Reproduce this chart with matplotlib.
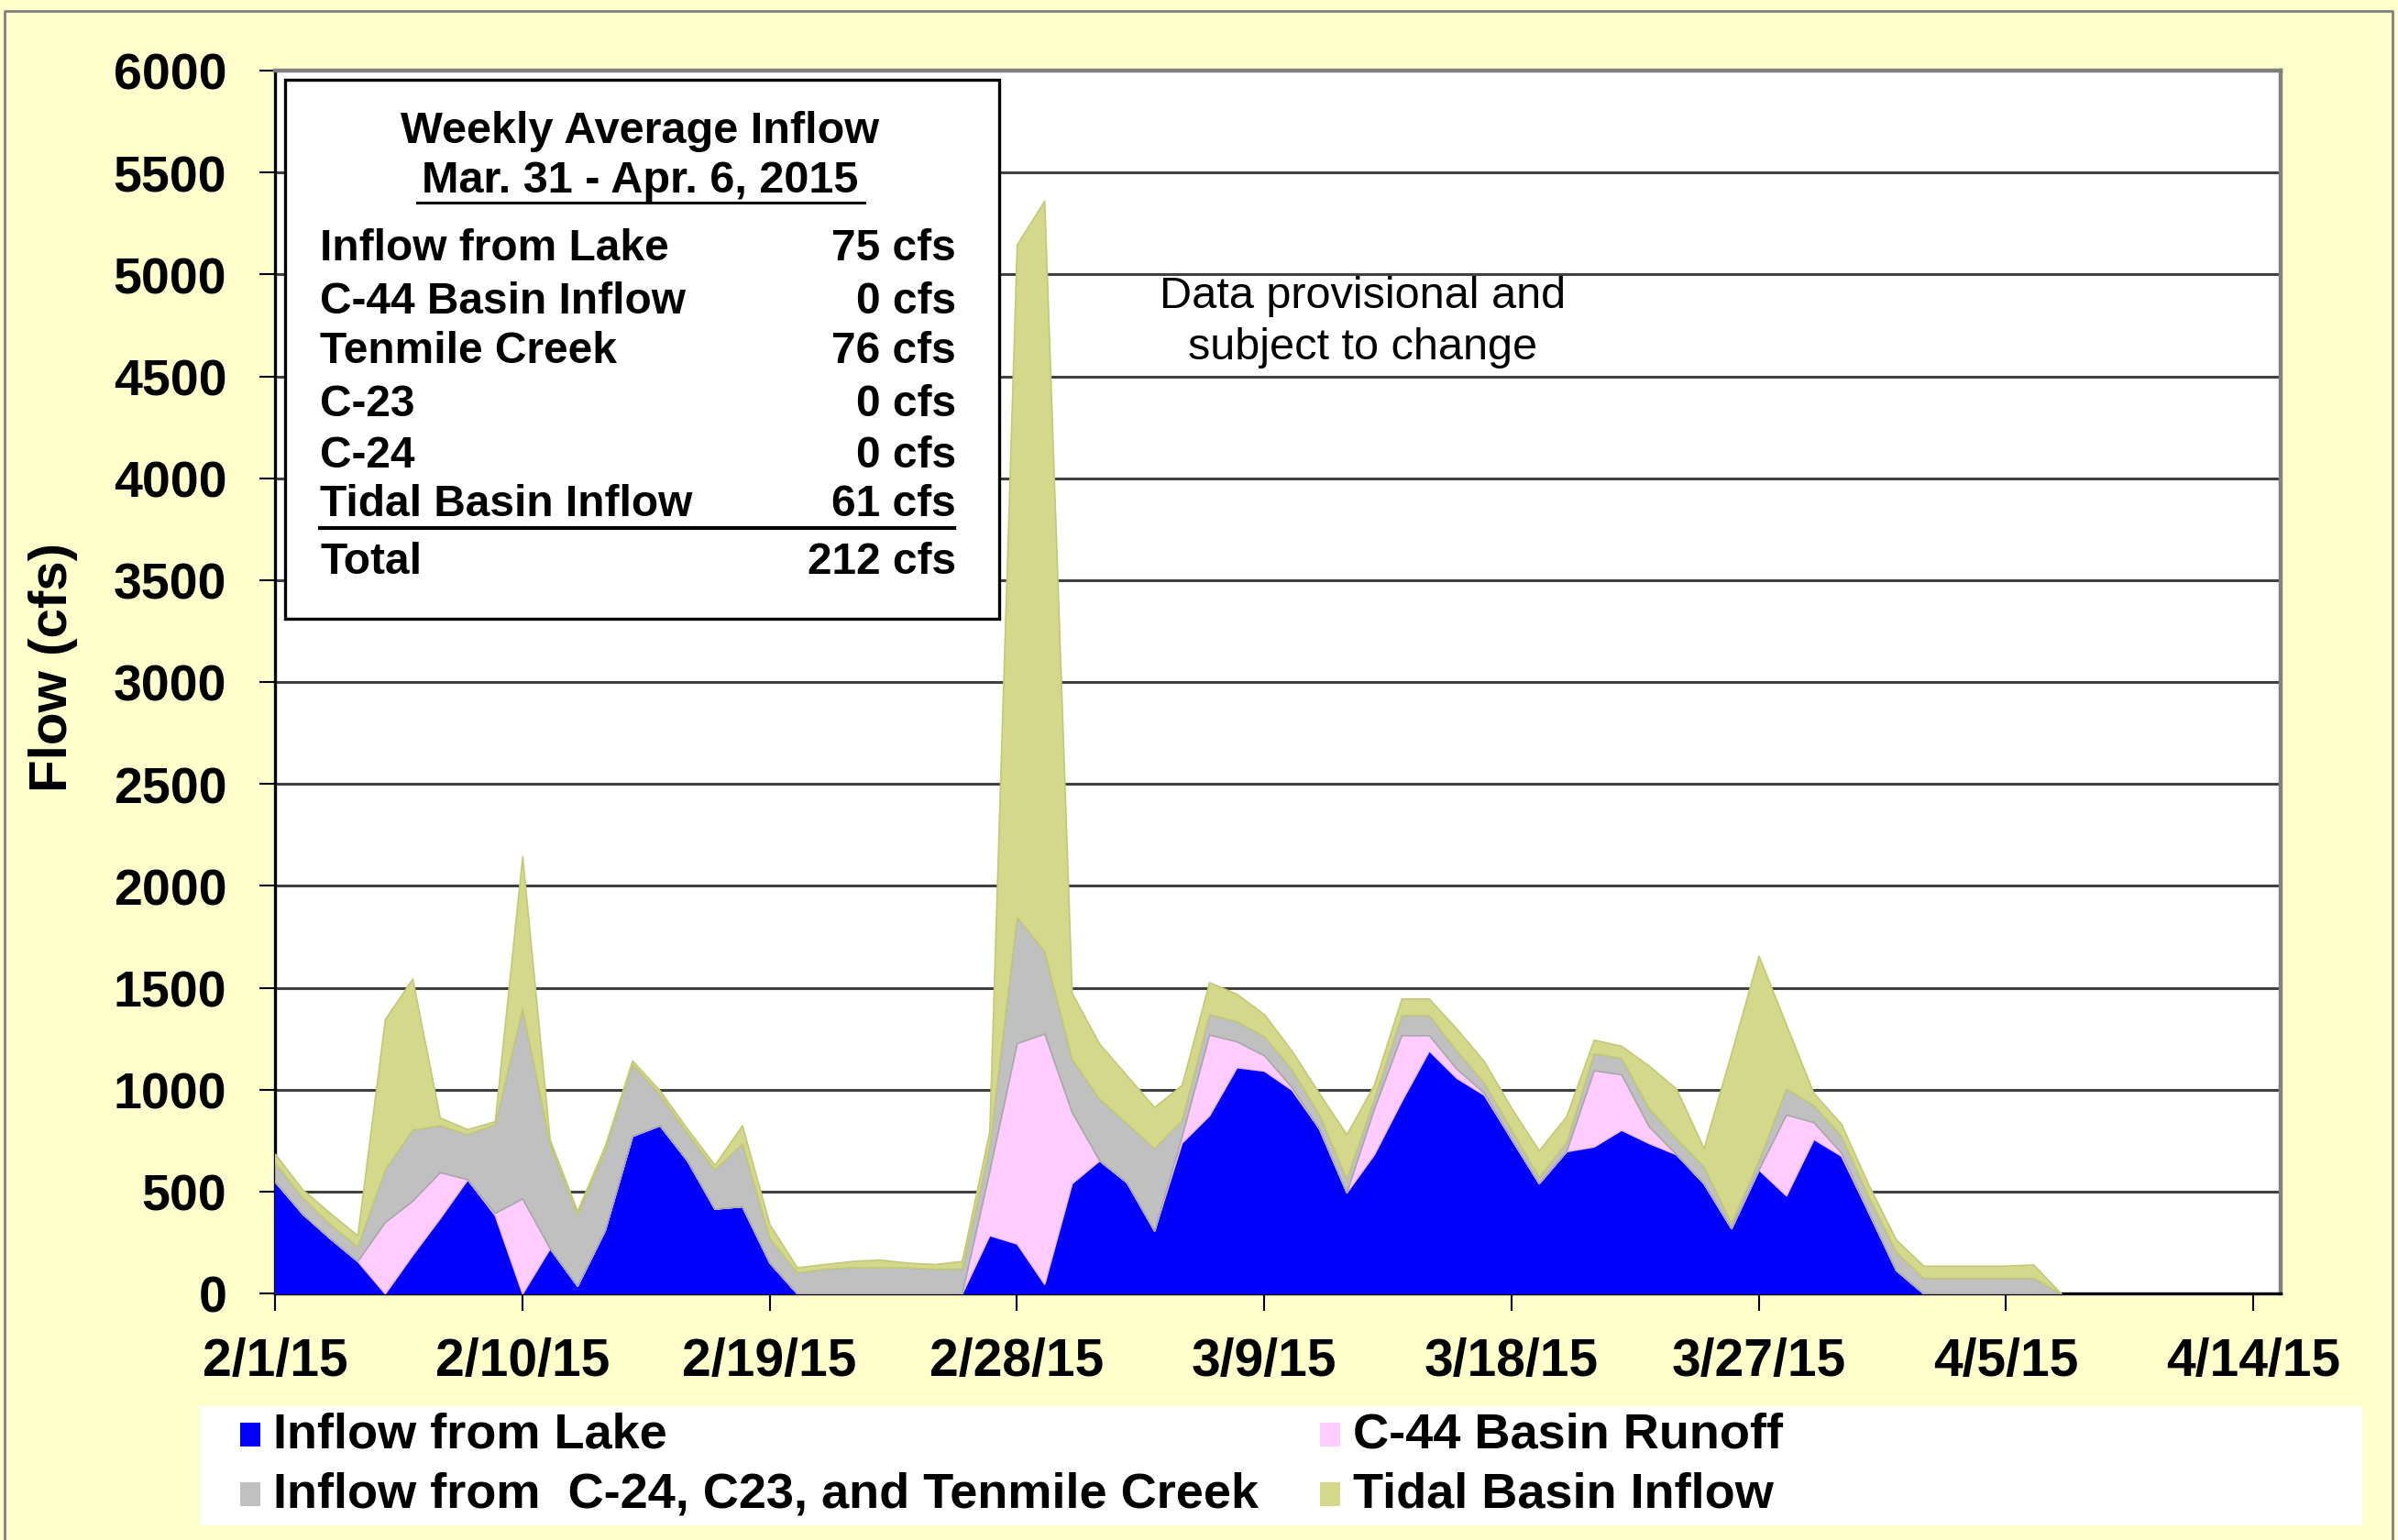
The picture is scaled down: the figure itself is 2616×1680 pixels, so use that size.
import matplotlib
matplotlib.use("Agg")
import matplotlib.pyplot as plt
import numpy as np
import pandas as pd
from matplotlib.patches import Rectangle
from matplotlib.lines import Line2D

# ---------------- data (cfs, daily from 2/1/2015) ----------------
start_date = "2015-02-01"
inflow_lake = [548, 391, 271, 159, 0, 190, 370, 560, 385, 0,
               222, 38, 309, 773, 825, 653, 416, 428, 151, 0,
               0, 0, 0, 0, 0, 0, 286, 245, 47, 541,
               653, 545, 309, 740, 874, 1110, 1093, 1000, 810, 496,
               683, 945, 1192, 1058, 975, 758, 541, 698, 721, 803,
               738, 683, 540, 320, 608, 481, 758, 676, 398, 114,
               0, 0, 0, 0, 0, 0]
c44_runoff = [0, 0, 0, 0, 350, 265, 225, 0, 10, 466,
              0, 0, 0, 0, 0, 0, 0, 0, 0, 0,
              0, 0, 0, 0, 0, 0, 314, 983, 1228, 349,
              0, 0, 0, 30, 396, 127, 75, 13, 0, 0,
              223, 322, 75, 45, 10, 0, 0, 0, 374, 272,
              82, 0, 0, 0, 0, 397, 82, 15, 0, 0,
              0, 0, 0, 0, 0, 0]
c24_c23_tenmile = [92, 79, 69, 71, 258, 348, 230, 221, 435, 932,
                   514, 349, 391, 352, 151, 134, 192, 307, 120, 103,
                   121, 128, 128, 128, 121, 121, 120, 619, 405, 260,
                   302, 290, 404, 80, 100, 98, 94, 87, 68, 67,
                   50, 98, 98, 89, 50, 45, 30, 45, 83, 80,
                   90, 77, 83, 25, 45, 127, 83, 82, 75, 90,
                   76, 76, 76, 76, 76, 0]
tidal_basin = [45, 40, 55, 55, 738, 742, 38, 25, 15, 747,
               19, 18, 22, 18, 21, 22, 23, 90, 68, 25,
               23, 31, 38, 23, 23, 38, 75, 3300, 3682, 325,
               271, 235, 202, 172, 157, 135, 108, 92, 105, 218,
               69, 82, 82, 108, 105, 107, 131, 127, 67, 60,
               208, 245, 90, 835, 1004, 315, 60, 60, 60, 60,
               60, 60, 60, 60, 66, 0]

series_names = ["Inflow from Lake", "C-44 Basin Runoff",
                "Inflow from  C-24, C23, and Tenmile Creek", "Tidal Basin Inflow"]
series_colors = ["#0000FF", "#FFCCFF", "#C0C0C0", "#D3D88A"]
edge_colors = ["#0000EE", "#F4BEF4", "#A8A8A8", "#C4C978"]

tick_dates = ["2015-02-01", "2015-02-10", "2015-02-19", "2015-02-28", "2015-03-09",
              "2015-03-18", "2015-03-27", "2015-04-05", "2015-04-14"]
tick_labels = ["2/1/15", "2/10/15", "2/19/15", "2/28/15", "3/9/15",
               "3/18/15", "3/27/15", "4/5/15", "4/14/15"]
x_end = "2015-04-15"
y_ticks = list(range(0, 6001, 500))

box_title = ["Weekly Average Inflow", "Mar. 31 - Apr. 6, 2015"]
box_rows = ["Inflow from Lake", "C-44 Basin Inflow", "Tenmile Creek", "C-23", "C-24",
            "Tidal Basin Inflow", "Total"]
box_values = ["75 cfs", "0 cfs", "76 cfs", "0 cfs", "0 cfs", "61 cfs", "212 cfs"]

# ---------------- figure ----------------
plt.rcParams['font.family'] = ['Liberation Sans', 'DejaVu Sans']
W, H = 2616, 1681
fig = plt.figure(figsize=(W / 100, H / 100), dpi=100, facecolor="#FFFFCC")


def fx(x):
    return x / W


def fy(y):
    return 1 - y / H


ax = fig.add_axes([fx(300), fy(1412), fx(2488) - fx(300), fy(78) - fy(1412)])
ax.set_facecolor("white")

dates = pd.date_range(start_date, periods=len(inflow_lake), freq="D")
layers = [np.array(inflow_lake, float), np.array(c44_runoff, float),
          np.array(c24_c23_tenmile, float), np.array(tidal_basin, float)]
base = np.zeros(len(dates))
for vals, col, ec in zip(layers, series_colors, edge_colors):
    top = base + vals
    ax.fill_between(dates, base, top, facecolor=col, edgecolor=ec, linewidth=1.2, zorder=3)
    base = top

ax.set_ylim(0, 6000)
ax.set_xlim(pd.Timestamp(start_date), pd.Timestamp(x_end))
ax.set_yticks(y_ticks)
ax.set_yticklabels([str(v) for v in y_ticks], fontsize=40, fontweight="bold")
ax.set_xticks(pd.to_datetime(tick_dates))
ax.set_xticklabels(tick_labels, fontsize=41, fontweight="bold")
ax.tick_params(axis="y", direction="out", length=12, width=1.5, pad=26)
ax.tick_params(axis="x", direction="out", length=14, width=1.5, pad=20)
ax.yaxis.grid(True, color="#404040", linewidth=2.2, zorder=1)
ax.xaxis.grid(False)
ax.set_axisbelow(True)
for side in ["left", "bottom"]:
    ax.spines[side].set_color("black")
    ax.spines[side].set_linewidth(2.4)
for side in ["top", "right"]:
    ax.spines[side].set_color("#808080")
    ax.spines[side].set_linewidth(3.2)

# y label
fig.text(fx(58), fy(728), "Flow (cfs)", rotation=90, ha="center", va="center",
         fontsize=42, fontweight="bold")

# provisional note
fig.text(fx(1487), fy(324), "Data provisional and", ha="center", va="center", fontsize=35)
fig.text(fx(1487), fy(380), "subject to change", ha="center", va="center", fontsize=35)

# info box
fig.patches.append(Rectangle((fx(311), fy(676)), fx(1090) - fx(311), fy(88) - fy(676),
                             transform=fig.transFigure, facecolor="white",
                             edgecolor="black", linewidth=2.4, zorder=5))
fig.text(fx(698), fy(143), box_title[0], ha="center", va="center", fontsize=35,
         fontweight="bold", zorder=6)
fig.text(fx(698), fy(197), box_title[1], ha="center", va="center", fontsize=35,
         fontweight="bold", zorder=6)
fig.add_artist(Line2D([fx(455), fx(943)], [fy(222), fy(222)], color="black", linewidth=2.2,
                      transform=fig.transFigure, zorder=6))
row_y = [272, 329, 384, 441, 497, 551, 614]
for name, val, yy in zip(box_rows, box_values, row_y):
    fig.text(fx(349), fy(yy), name, ha="left", va="center", fontsize=34.5,
             fontweight="bold", zorder=6)
    fig.text(fx(1043), fy(yy), val, ha="right", va="center", fontsize=34.5,
             fontweight="bold", zorder=6)
fig.add_artist(Line2D([fx(349), fx(1041)], [fy(577), fy(577)], color="black", linewidth=3,
                      transform=fig.transFigure, zorder=6))

# legend
fig.patches.append(Rectangle((fx(218), fy(1665)), fx(2577) - fx(218), fy(1535) - fy(1665),
                             transform=fig.transFigure, facecolor="white",
                             edgecolor="none", zorder=2))
leg_pos = [(262, 1566), (262, 1631), (1440, 1566), (1440, 1631)]
leg_order = [0, 2, 1, 3]
for (lx, ly), idx in zip(leg_pos, leg_order):
    fig.patches.append(Rectangle((fx(lx), fy(ly + 13)), fx(22), 26 / H,
                                 transform=fig.transFigure, facecolor=series_colors[idx],
                                 edgecolor="none", zorder=3))
    fig.text(fx(lx + 36), fy(ly), series_names[idx], ha="left", va="center",
             fontsize=39, fontweight="bold", zorder=4)

# figure border
fig.add_artist(Line2D([fx(5), fx(5), fx(2610), fx(2610)], [0, fy(13), fy(13), 0],
                      color="#808080", linewidth=2, transform=fig.transFigure))

fig.savefig("out.png", dpi=100, facecolor=fig.get_facecolor())
